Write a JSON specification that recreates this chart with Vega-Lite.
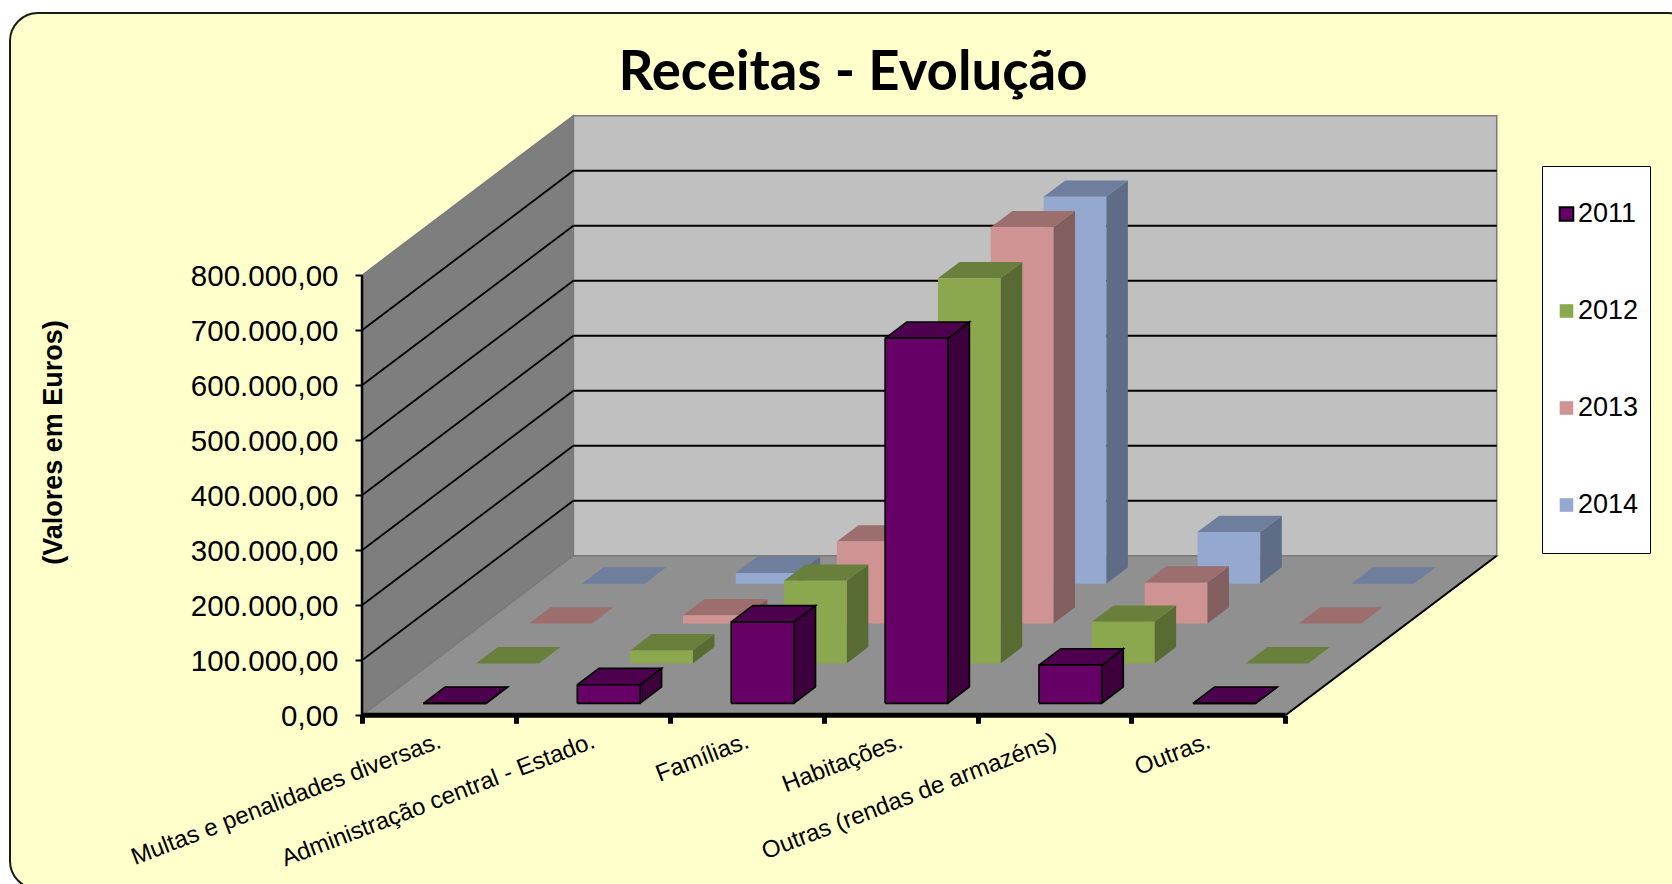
{
  "$schema": "https://vega.github.io/schema/vega-lite/v6.json",
  "autosize": "none",
  "padding": {"left": 10, "top": 13, "right": -24, "bottom": -5},
  "width": 1686,
  "height": 876,
  "background": "#FFFFFF",
  "view": {"fill": "#FFFFCC", "stroke": "#1A1A1A", "strokeWidth": 2, "cornerRadius": 28},
  "title": {
    "text": "Receitas - Evolução",
    "font": "Lato",
    "fontSize": 54.5,
    "fontWeight": "bold",
    "color": "#000000",
    "anchor": "middle",
    "baseline": "alphabetic",
    "dy": 135
  },
  "params": [
    {"name": "kx", "value": 0.3433},
    {"name": "ky", "value": 72530}
  ],
  "datasets": {
    "receitas": [
      {"categoria": "Multas e penalidades diversas.", "ano": 2014, "valor": 0},
      {"categoria": "Administração central - Estado.", "ano": 2014, "valor": 19400},
      {"categoria": "Famílias.", "ano": 2014, "valor": 150000},
      {"categoria": "Habitações.", "ano": 2014, "valor": 703400},
      {"categoria": "Outras (rendas de armazéns)", "ano": 2014, "valor": 93800},
      {"categoria": "Outras.", "ano": 2014, "valor": 0},
      {"categoria": "Multas e penalidades diversas.", "ano": 2013, "valor": 0},
      {"categoria": "Administração central - Estado.", "ano": 2013, "valor": 15000},
      {"categoria": "Famílias.", "ano": 2013, "valor": 149000},
      {"categoria": "Habitações.", "ano": 2013, "valor": 720300},
      {"categoria": "Outras (rendas de armazéns)", "ano": 2013, "valor": 74200},
      {"categoria": "Outras.", "ano": 2013, "valor": 0},
      {"categoria": "Multas e penalidades diversas.", "ano": 2012, "valor": 0},
      {"categoria": "Administração central - Estado.", "ano": 2012, "valor": 23700},
      {"categoria": "Famílias.", "ano": 2012, "valor": 150300},
      {"categoria": "Habitações.", "ano": 2012, "valor": 700100},
      {"categoria": "Outras (rendas de armazéns)", "ano": 2012, "valor": 75800},
      {"categoria": "Outras.", "ano": 2012, "valor": 0},
      {"categoria": "Multas e penalidades diversas.", "ano": 2011, "valor": 0},
      {"categoria": "Administração central - Estado.", "ano": 2011, "valor": 33800},
      {"categoria": "Famílias.", "ano": 2011, "valor": 147900},
      {"categoria": "Habitações.", "ano": 2011, "valor": 663600},
      {"categoria": "Outras (rendas de armazéns)", "ano": 2011, "valor": 69600},
      {"categoria": "Outras.", "ano": 2011, "valor": 0}
    ],
    "grade": [
      {"valor": 100000}, {"valor": 200000}, {"valor": 300000}, {"valor": 400000},
      {"valor": 500000}, {"valor": 600000}, {"valor": 700000}
    ],
    "paredes": [{"parede": "fundo"}, {"parede": "lado"}, {"parede": "chao"}]
  },
  "encoding": {
    "x": {
      "field": "px",
      "type": "quantitative",
      "scale": {"domain": [-2.2872, 8.668], "nice": false, "zero": false},
      "axis": {
        "values": [0, 1, 2, 3, 4, 5, 6],
        "offset": -173.7,
        "domain": false,
        "grid": false,
        "labels": false,
        "title": null,
        "tickColor": "#000000",
        "tickWidth": 5,
        "tickSize": 8
      }
    },
    "y": {
      "field": "py",
      "type": "quantitative",
      "scale": {"domain": [-315787, 1276781], "nice": false, "zero": false},
      "axis": {
        "values": [0, 100000, 200000, 300000, 400000, 500000, 600000, 700000, 800000],
        "labelExpr": "replace(format(datum.value, ',.0f'), /,/g, '.') + ',00'",
        "offset": -352,
        "domain": false,
        "grid": false,
        "tickColor": "#000000",
        "tickWidth": 2,
        "tickSize": 7,
        "labelFont": "Liberation Sans",
        "labelFontSize": 29.5,
        "labelColor": "#000000",
        "labelPadding": 17,
        "labelOffset": 1,
        "title": "(Valores em Euros)",
        "titleFont": "Liberation Sans",
        "titleFontSize": 27,
        "titleFontWeight": "bold",
        "titleColor": "#000000",
        "titleX": -295,
        "titleY": 429
      }
    }
  },
  "layer": [
    {
      "data": {"name": "paredes"},
      "transform": [
        {"calculate": "[0, 1, 2, 3, 4]", "as": "vertice"},
        {"flatten": ["vertice"]},
        {"calculate": "datum.parede == 'lado' ? 0 : [0, 6, 6, 0, 0][datum.vertice]", "as": "u"},
        {"calculate": "datum.parede == 'fundo' ? 4 : datum.parede == 'lado' ? [0, 4, 4, 0, 0][datum.vertice] : [0, 0, 4, 4, 0][datum.vertice]", "as": "w"},
        {"calculate": "datum.parede == 'chao' ? 0 : [0, 0, 800000, 800000, 0][datum.vertice]", "as": "h"},
        {"calculate": "datum.u + datum.w * kx", "as": "px"},
        {"calculate": "datum.h + datum.w * ky", "as": "py"}
      ],
      "mark": {"type": "line", "stroke": "#7A7A7A", "strokeWidth": 1.5, "clip": false},
      "encoding": {
        "detail": {"field": "parede"},
        "order": {"field": "vertice", "type": "quantitative"},
        "fill": {
          "field": "parede",
          "type": "nominal",
          "scale": {"domain": ["fundo", "lado", "chao"], "range": ["#C0C0C0", "#7E7E7E", "#909090"]},
          "legend": null
        }
      }
    },
    {
      "data": {"name": "grade"},
      "transform": [
        {"calculate": "0", "as": "xa"},
        {"calculate": "4 * kx", "as": "xb"},
        {"calculate": "datum.valor + 4 * ky", "as": "yb"}
      ],
      "mark": {"type": "rule", "color": "#000000", "strokeWidth": 1.8},
      "encoding": {
        "x": {"field": "xa", "type": "quantitative"},
        "x2": {"field": "xb"},
        "y": {"field": "valor", "type": "quantitative"},
        "y2": {"field": "yb"}
      }
    },
    {
      "data": {"name": "grade"},
      "transform": [
        {"calculate": "4 * kx", "as": "xa"},
        {"calculate": "6 + 4 * kx", "as": "xb"},
        {"calculate": "datum.valor + 4 * ky", "as": "yb"}
      ],
      "mark": {"type": "rule", "color": "#000000", "strokeWidth": 2},
      "encoding": {
        "x": {"field": "xa", "type": "quantitative"},
        "x2": {"field": "xb"},
        "y": {"field": "yb", "type": "quantitative"}
      }
    },
    {
      "data": {"name": "paredes"},
      "transform": [
        {"filter": "datum.parede == 'chao'"},
        {"calculate": "6", "as": "xa"},
        {"calculate": "6 + 4 * kx", "as": "xb"},
        {"calculate": "0", "as": "ya"},
        {"calculate": "4 * ky", "as": "yb"}
      ],
      "mark": {"type": "rule", "color": "#000000", "strokeWidth": 2},
      "encoding": {
        "x": {"field": "xa", "type": "quantitative"},
        "x2": {"field": "xb"},
        "y": {"field": "ya", "type": "quantitative"},
        "y2": {"field": "yb"}
      }
    },
    {
      "data": {"name": "receitas"},
      "transform": [
        {"calculate": "indexof(['Multas e penalidades diversas.', 'Administração central - Estado.', 'Famílias.', 'Habitações.', 'Outras (rendas de armazéns)', 'Outras.'], datum.categoria)", "as": "c"},
        {"calculate": "datum.ano - 2011", "as": "s"},
        {"calculate": "['lado', 'topo', 'frente']", "as": "face"},
        {"flatten": ["face"]},
        {"calculate": "[0, 1, 2, 3, 4]", "as": "vertice"},
        {"flatten": ["vertice"]},
        {"calculate": "datum.c + 0.296", "as": "x0"},
        {"calculate": "datum.c + 0.703", "as": "x1"},
        {"calculate": "datum.s + 0.30", "as": "d0"},
        {"calculate": "datum.s + 0.71", "as": "d1"},
        {"calculate": "datum.face == 'lado' ? datum.x1 : [datum.x0, datum.x1, datum.x1, datum.x0, datum.x0][datum.vertice]", "as": "u"},
        {"calculate": "datum.face == 'frente' ? datum.d0 : datum.face == 'lado' ? [datum.d0, datum.d1, datum.d1, datum.d0, datum.d0][datum.vertice] : [datum.d0, datum.d0, datum.d1, datum.d1, datum.d0][datum.vertice]", "as": "w"},
        {"calculate": "datum.face == 'topo' ? datum.valor : [0, 0, datum.valor, datum.valor, 0][datum.vertice]", "as": "h"},
        {"calculate": "datum.u + datum.w * kx", "as": "px"},
        {"calculate": "datum.h + datum.w * ky", "as": "py"},
        {"calculate": "datum.ano + '|' + datum.face", "as": "tom"},
        {"calculate": "datum.categoria + datum.ano + datum.face", "as": "peca"},
        {"calculate": "datum.ano == 2011 ? '#000000' : 'transparent'", "as": "contorno"}
      ],
      "mark": {"type": "line", "strokeWidth": 1.6, "strokeJoin": "miter"},
      "encoding": {
        "detail": {"field": "peca"},
        "order": {"field": "vertice", "type": "quantitative"},
        "stroke": {"field": "contorno", "type": "nominal", "scale": null, "legend": null},
        "fill": {
          "field": "tom",
          "type": "nominal",
          "scale": {
            "domain": [
              "2011|frente", "2011|topo", "2011|lado",
              "2012|frente", "2012|topo", "2012|lado",
              "2013|frente", "2013|topo", "2013|lado",
              "2014|frente", "2014|topo", "2014|lado"
            ],
            "range": [
              "#660066", "#4D004D", "#3D003D",
              "#8BA84F", "#68803B", "#586B33",
              "#D09393", "#9C6E6E", "#825E5E",
              "#95A8CF", "#6F7E9C", "#5E6C86"
            ]
          },
          "legend": {
            "values": ["2011|frente", "2012|frente", "2013|frente", "2014|frente"],
            "labelExpr": "slice(datum.label, 0, 4)",
            "title": null,
            "orient": "none",
            "legendX": 1532,
            "legendY": 153,
            "fillColor": "#FFFFFF",
            "strokeColor": "#000000",
            "padding": 11,
            "clipHeight": 74,
            "rowPadding": 23,
            "symbolType": "square",
            "symbolSize": 185,
            "symbolStrokeWidth": 2,
            "encoding": {
              "symbols": {
                "stroke": {"value": {"signal": "indexof(datum.value, '2011') == 0 ? '#000000' : 'transparent'"}}
              }
            },
            "labelFont": "Liberation Sans",
            "labelFontSize": 27,
            "labelColor": "#000000",
            "labelOffset": -2
          }
        }
      }
    },
    {
      "data": {"name": "paredes"},
      "transform": [
        {"filter": "datum.parede == 'chao'"},
        {"calculate": "0", "as": "xa"},
        {"calculate": "6", "as": "xb"},
        {"calculate": "0", "as": "ya"}
      ],
      "mark": {"type": "rule", "color": "#000000", "strokeWidth": 5},
      "encoding": {
        "x": {"field": "xa", "type": "quantitative"},
        "x2": {"field": "xb"},
        "y": {"field": "ya", "type": "quantitative"}
      }
    },
    {
      "data": {"name": "paredes"},
      "transform": [
        {"filter": "datum.parede == 'chao'"},
        {"calculate": "0", "as": "xa"},
        {"calculate": "0", "as": "ya"},
        {"calculate": "800000", "as": "yb"}
      ],
      "mark": {"type": "rule", "color": "#000000", "strokeWidth": 2.5},
      "encoding": {
        "x": {"field": "xa", "type": "quantitative"},
        "y": {"field": "ya", "type": "quantitative"},
        "y2": {"field": "yb"}
      }
    },
    {
      "data": {"name": "receitas"},
      "transform": [
        {"filter": "datum.ano == 2011"},
        {"calculate": "indexof(['Multas e penalidades diversas.', 'Administração central - Estado.', 'Famílias.', 'Habitações.', 'Outras (rendas de armazéns)', 'Outras.'], datum.categoria) + 0.5", "as": "meio"},
        {"calculate": "0", "as": "base"}
      ],
      "mark": {
        "type": "text",
        "align": "right",
        "baseline": "middle",
        "angle": 339,
        "dx": -8,
        "dy": 24,
        "font": "Liberation Sans",
        "fontSize": 24,
        "color": "#000000"
      },
      "encoding": {
        "x": {"field": "meio", "type": "quantitative"},
        "y": {"field": "base", "type": "quantitative"},
        "text": {"field": "categoria"}
      }
    }
  ],
  "resolve": {"scale": {"fill": "independent"}}
}
